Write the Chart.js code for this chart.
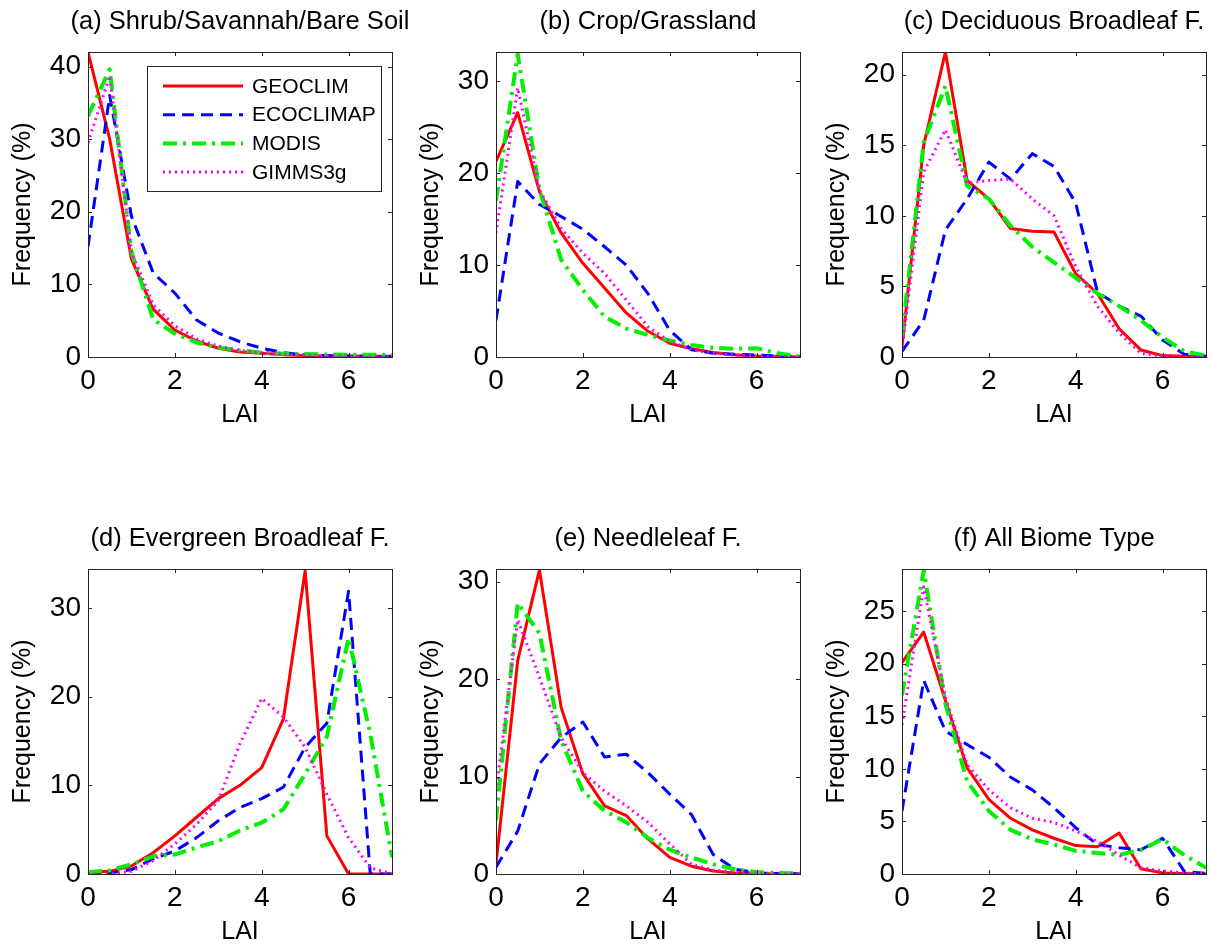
<!DOCTYPE html>
<html>
<head>
<meta charset="utf-8">
<title>LAI frequency by biome</title>
<script src="https://cdn.jsdelivr.net/npm/chart.js@4.4.1/dist/chart.umd.min.js"></script>
<style>
  html, body { margin: 0; padding: 0; background: #fff; overflow: hidden; }
  canvas { position: absolute; }
</style>
</head>
<body>
<canvas id="pa" width="420" height="440" style="left:0px;top:0px"></canvas>
<canvas id="pb" width="420" height="440" style="left:408px;top:0px"></canvas>
<canvas id="pc" width="420" height="440" style="left:814px;top:0px"></canvas>
<canvas id="pd" width="420" height="440" style="left:0px;top:517px"></canvas>
<canvas id="pe" width="420" height="440" style="left:408px;top:517px"></canvas>
<canvas id="pf" width="420" height="440" style="left:814px;top:517px"></canvas>
<script>
const lai = [0, 0.5, 1, 1.5, 2, 2.5, 3, 3.5, 4, 4.5, 5, 5.5, 6, 6.5, 7];
const seriesNames = ['GEOCLIM', 'ECOCLIMAP', 'MODIS', 'GIMMS3g'];
const titles = [
    '(a) Shrub/Savannah/Bare Soil',
    '(b) Crop/Grassland',
    '(c) Deciduous Broadleaf F.',
    '(d) Evergreen Broadleaf F.',
    '(e) Needleleaf F.',
    '(f) All Biome Type'
];
const yMax = [42, 33.2, 21.6, 34.4, 31.3, 29];
const yStep = [10, 10, 5, 10, 10, 5];

// (a) shrub / savannah / bare soil
const geoclimA = [42, 30, 13.5, 6.6, 3.7, 2.2, 1.2, 0.7, 0.5, 0.3, 0.2, 0.15, 0.1, 0.1, 0.1];
const ecoclimapA = [15.2, 36, 19.4, 11.6, 8.8, 5.1, 3.3, 2.1, 1.2, 0.6, 0.3, 0.2, 0.15, 0.1, 0.05];
const modisA = [33.2, 39.6, 14.5, 5.2, 3.2, 2.0, 1.3, 0.9, 0.6, 0.45, 0.4, 0.35, 0.3, 0.3, 0.3];
const gimmsA = [29.5, 38.7, 14.5, 7.2, 4.3, 2.5, 1.5, 0.9, 0.6, 0.4, 0.3, 0.2, 0.15, 0.1, 0.1];

// (b) crop / grassland
const geoclimB = [21.3, 26.6, 18.0, 13.5, 10.2, 7.5, 4.8, 2.8, 1.5, 0.9, 0.5, 0.25, 0.1, 0.05, 0];
const ecoclimapB = [4.0, 19.1, 16.6, 15.3, 13.9, 12.0, 10.0, 6.9, 2.9, 0.8, 0.4, 0.3, 0.2, 0.1, 0.05];
const modisB = [17, 33, 18.2, 10.6, 7.3, 4.4, 3.1, 2.4, 1.8, 1.3, 1.0, 0.9, 0.95, 0.4, 0.05];
const gimmsB = [13.5, 29.3, 18.2, 14.0, 11.3, 9.1, 6.2, 3.3, 1.7, 0.8, 0.4, 0.2, 0.1, 0.05, 0];

// (c) deciduous broadleaf forest
const geoclimC = [0.7, 15.0, 21.6, 12.5, 11.2, 9.1, 8.9, 8.85, 5.9, 4.5, 2.0, 0.5, 0.1, 0.05, 0];
const ecoclimapC = [0.4, 2.6, 9.0, 11.2, 13.8, 12.6, 14.4, 13.5, 10.9, 4.6, 3.6, 2.9, 1.2, 0.2, 0.05];
const modisC = [1.5, 15.2, 19.2, 12.1, 11.2, 9.3, 7.8, 6.7, 5.6, 4.5, 3.6, 2.6, 1.4, 0.4, 0.1];
const gimmsC = [0.5, 13.1, 16.1, 12.3, 12.5, 12.6, 11.2, 10.0, 6.4, 3.6, 1.7, 0.25, 0.05, 0, 0];

// (d) evergreen broadleaf forest
const geoclimD = [0.2, 0.3, 0.9, 2.4, 4.3, 6.4, 8.5, 10.0, 12.0, 17.5, 34.2, 4.3, 0, 0, 0];
const ecoclimapD = [0.1, 0.1, 0.5, 1.7, 2.6, 4.1, 6.0, 7.5, 8.5, 9.8, 14.3, 17.0, 31.9, 0, 0];
const modisD = [0.2, 0.4, 1.1, 2.0, 2.2, 3.0, 3.7, 4.9, 5.8, 7.3, 11.3, 15.5, 26.6, 15.8, 1.9];
const gimmsD = [0, 0, 0.3, 1.5, 3.4, 5.6, 8.3, 14.7, 19.8, 17.7, 14.3, 9.0, 4.1, 0.7, 0];

// (e) needleleaf forest
const geoclimE = [1.0, 21.9, 31.2, 17.1, 10.3, 7.0, 6.0, 3.6, 1.7, 0.8, 0.3, 0.1, 0.05, 0, 0];
const ecoclimapE = [0.7, 4.4, 11.3, 14.0, 15.6, 12.0, 12.3, 10.4, 8.2, 6.1, 2.0, 0.5, 0.1, 0.05, 0];
const modisE = [5.5, 27.8, 24.7, 13.7, 8.5, 6.5, 5.3, 3.7, 2.5, 1.7, 1.0, 0.5, 0.2, 0.1, 0.05];
const gimmsE = [8.5, 26.1, 20.2, 14.0, 10.4, 8.5, 7.0, 5.3, 3.1, 1.0, 0.4, 0.2, 0.1, 0.05, 0];

// (f) all biome types
const geoclimF = [20.1, 23.0, 16.5, 10.1, 7.1, 5.3, 4.2, 3.4, 2.7, 2.6, 3.9, 0.5, 0.1, 0.05, 0];
const ecoclimapF = [6.0, 18.4, 13.6, 12.3, 11.1, 9.2, 8.0, 6.3, 4.4, 2.8, 2.5, 2.3, 3.4, 0.25, 0.05];
const modisF = [17, 28.9, 16.2, 8.8, 6.0, 4.2, 3.3, 2.8, 2.2, 2.0, 1.8, 2.3, 3.3, 1.8, 0.6];
const gimmsF = [14.2, 27.3, 16.8, 10.4, 8.0, 6.3, 5.3, 4.9, 4.1, 3.1, 1.8, 0.6, 0.3, 0.1, 0];

const panelData = [
    [geoclimA, ecoclimapA, modisA, gimmsA],
    [geoclimB, ecoclimapB, modisB, gimmsB],
    [geoclimC, ecoclimapC, modisC, gimmsC],
    [geoclimD, ecoclimapD, modisD, gimmsD],
    [geoclimE, ecoclimapE, modisE, gimmsE],
    [geoclimF, ecoclimapF, modisF, gimmsF]
];

const FONT = '"Liberation Sans", Arial, sans-serif';
const lineStyles = [
    { color: '#ff0000', width: 3, dash: [] },
    { color: '#0000ff', width: 3, dash: [12, 7] },
    { color: '#00f000', width: 4, dash: [14, 6, 3, 6] },
    { color: '#ff00ff', width: 3, dash: [2, 4] }
];

// box, inward ticks on all four sides, panel title, optional legend
const framePlugin = {
    id: 'frame',
    afterDraw(chart, args, opts) {
        const ctx = chart.ctx;
        const a = chart.chartArea;
        const xs = chart.scales.x, ys = chart.scales.y;
        ctx.save();
        ctx.strokeStyle = '#262626';
        ctx.lineWidth = 1;
        ctx.beginPath();
        xs.ticks.forEach(t => {
            const px = Math.round(xs.getPixelForValue(t.value)) + 0.5;
            ctx.moveTo(px, a.bottom); ctx.lineTo(px, a.bottom - 4);
            ctx.moveTo(px, a.top); ctx.lineTo(px, a.top + 4);
        });
        ys.ticks.forEach(t => {
            const py = Math.round(ys.getPixelForValue(t.value)) + 0.5;
            ctx.moveTo(a.left, py); ctx.lineTo(a.left + 4, py);
            ctx.moveTo(a.right, py); ctx.lineTo(a.right - 4, py);
        });
        ctx.stroke();
        ctx.strokeRect(Math.round(a.left) + 0.5, Math.round(a.top) + 0.5,
            Math.round(a.right - a.left), Math.round(a.bottom - a.top));

        ctx.fillStyle = '#000';
        ctx.font = '25.5px ' + FONT;
        ctx.textAlign = 'center';
        ctx.textBaseline = 'middle';
        ctx.fillText(opts.title, (a.left + a.right) / 2, 22);

        if (opts.legend) {
            const bx = 147, by = 66, bw = 234, bh = 125;
            ctx.fillStyle = '#fff';
            ctx.fillRect(bx, by, bw, bh);
            ctx.strokeRect(bx + 0.5, by + 0.5, bw, bh);
            ctx.font = '21px ' + FONT;
            ctx.textAlign = 'left';
            chart.data.datasets.forEach((ds, i) => {
                const yy = 86 + i * 28.7;
                ctx.save();
                ctx.strokeStyle = ds.borderColor;
                ctx.lineWidth = ds.borderWidth;
                ctx.setLineDash(ds.borderDash);
                ctx.beginPath();
                ctx.moveTo(163, yy); ctx.lineTo(243, yy);
                ctx.stroke();
                ctx.restore();
                ctx.fillStyle = '#000';
                ctx.fillText(ds.label, 252, yy + 1);
            });
        }
        ctx.restore();
    }
};

function makePanel(id, idx) {
    const datasets = panelData[idx].map((vals, i) => ({
        label: seriesNames[i],
        data: lai.map((x, k) => ({ x: x, y: vals[k] })),
        borderColor: lineStyles[i].color,
        borderWidth: lineStyles[i].width,
        borderDash: lineStyles[i].dash,
        borderJoinStyle: 'round',
        pointRadius: 0,
        tension: 0,
        fill: false,
        order: 4 - i
    }));

    new Chart(document.getElementById(id), {
        type: 'line',
        data: { datasets },
        plugins: [framePlugin],
        options: {
            responsive: false,
            animation: false,
            events: [],
            layout: { padding: { top: 52, right: 28, left: 0, bottom: 0 } },
            plugins: {
                legend: { display: false },
                tooltip: { enabled: false },
                frame: { title: titles[idx], legend: idx === 0 }
            },
            scales: {
                x: {
                    type: 'linear',
                    min: 0,
                    max: 7,
                    grid: { display: false, drawTicks: false },
                    border: { display: false },
                    ticks: {
                        stepSize: 2,
                        includeBounds: false,
                        padding: 7,
                        color: '#000',
                        font: { family: FONT, size: 28 }
                    },
                    title: {
                        display: true,
                        text: 'LAI',
                        color: '#000',
                        font: { family: FONT, size: 25 },
                        padding: { top: 0, bottom: 10 }
                    },
                    afterFit(s) { s.height = 83; s.paddingLeft = 0; s.paddingRight = 0; }
                },
                y: {
                    min: 0,
                    max: yMax[idx],
                    grid: { display: false, drawTicks: false },
                    border: { display: false },
                    ticks: {
                        stepSize: yStep[idx],
                        includeBounds: false,
                        padding: 7,
                        color: '#000',
                        font: { family: FONT, size: 28 }
                    },
                    title: {
                        display: true,
                        text: 'Frequency (%)',
                        color: '#000',
                        font: { family: FONT, size: 25 },
                        padding: { top: 8, bottom: 0 }
                    },
                    afterFit(s) { s.width = 88; s.paddingTop = 0; s.paddingBottom = 0; }
                }
            }
        }
    });
}

window.onload = () => {
    ['pa', 'pb', 'pc', 'pd', 'pe', 'pf'].forEach((id, i) => makePanel(id, i));
};
</script>
</body>
</html>
